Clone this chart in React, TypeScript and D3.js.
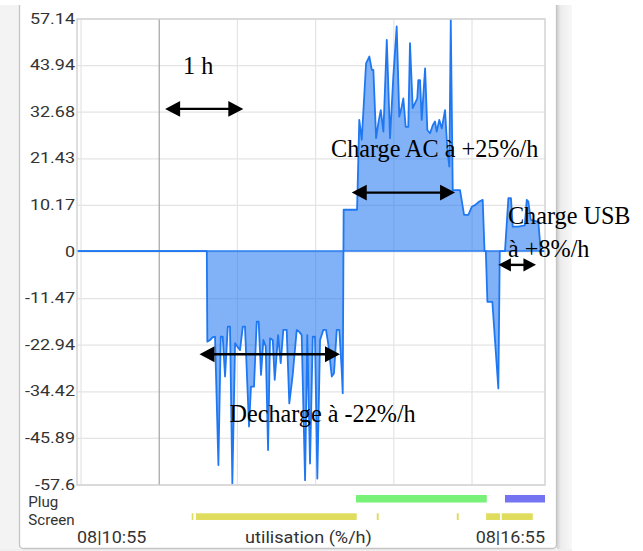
import React from 'react';
import * as d3 from 'd3';

// ---- data (time in minutes since midnight, rate in %/h) ----
const yTickLabels = ['57.14', '43.94', '32.68', '21.43', '10.17', '0', '-11.47', '-22.94', '-34.42', '-45.89', '-57.6'];
const yMin = -57.6;
const yMax = 57.14;
const tStart = 656.9;
const tEnd = 1016;
const hourGrid = [11, 12, 13, 14, 15, 16];
const majorHour = 12;

const times = [
  656.9, 756.5, 756.9, 759.0, 761.1, 762.8, 765.4, 767.2, 768.7, 770.5, 772.6, 774.3, 776.1, 778.2, 779.9,
  782.0, 784.1, 785.8, 788.9, 790.4, 792.7, 794.8, 796.3, 798.1, 799.9, 801.7, 803.5, 805.0, 807.1, 808.6,
  811.2, 813.2, 815.2, 817.8, 819.8, 822.4, 825.5, 827.5, 829.3, 831.9, 833.6, 835.7, 837.8, 839.5, 841.3,
  843.4, 845.9, 848.0, 849.8, 852.4, 854.1, 856.2, 858.2, 860.0, 860.8, 861.5, 871.8, 873.5, 875.4, 878.7,
  881.2, 883.1, 884.3, 886.4, 888.1, 890.0, 892.0, 894.6, 897.1, 899.6, 902.2, 904.2, 906.1, 907.3, 909.1,
  911.1, 912.4, 914.5, 916.3, 918.0, 918.8, 920.1, 921.4, 924.0, 925.7, 927.8, 929.9, 931.6, 932.9, 934.9,
  936.8, 939.3, 941.1, 942.6, 943.7, 945.2, 950.8, 953.9, 957.2, 959.8, 962.3, 965.6, 968.2, 969.6, 970.6,
  971.8, 975.6, 980.2, 981.3, 985.3, 987.9, 989.9, 991.2, 995.5, 1000.5, 1002.0, 1003.2, 1005.1, 1010.9, 1012.7,
  1016,
];
const rates = [
  0, 0, -22.3, -21.9, -21.2, -21.1, -52.7, -21.1, -21.1, -30.9, -18.6, -18.6, -57.2, -22.7, -23.5,
  -24.4, -18.6, -18.6, -43.2, -33.4, -33.4, -17.4, -17.4, -30.5, -21.9, -23.5, -49.0, -21.5, -21.9, -31.7,
  -20.7, -27.6, -19.4, -19.4, -37.5, -30.5, -19.4, -19.9, -20.7, -56.4, -20.7, -52.3, -21.1, -21.1, -56.0,
  -21.9, -19.4, -19.4, -23.1, -30.9, -30.1, -19.4, -19.4, -29.3, -35.0, 10.17, 10.17, 32.3, 27.4, 46.2,
  47.9, 44.6, 44.6, 27.8, 31.5, 34.7, 29.4, 52.0, 27.8, 42.9, 55.3, 33.1, 35.6, 37.6, 30.6,
  30.6, 51.2, 35.2, 36.4, 37.6, 42.1, 42.1, 32.3, 45.0, 29.8, 29.0, 31.0, 31.9, 29.4, 32.3,
  30.2, 34.7, 24.9, 20.8, 56.9, 15.0, 15.0, 8.9, 8.9, 10.9, 11.3, 12.2, 12.6, 0, 0,
  -12.5, -12.5, -33.8, 0, 0, 13.0, 13.0, 6.0, 6.0, 6.3, 12.6, 12.2, 7.7, 7.2, 0,
  0,
];

const plugAC = [[871.0, 971.3]];
const plugUSB = [[985.3, 1016]];
const screenOn = [[744.9, 746.2], [748.2, 871.5], [886.9, 888.4], [948.3, 949.8], [970.8, 981.5], [982.8, 1006.6]];

const xLabels = ['08|10:55', '08|16:55'];
const axisTitle = 'utilisation (%/h)';
const rowLabels = ['Plug', 'Screen'];

const noteTexts = ['1 h', 'Charge AC à +25%/h', 'Charge USB', 'à +8%/h', 'Decharge à -22%/h'];
const noteTimes = [738.3, 851.8, 987.6, 987.6, 773.9];
const noteValues = [43.6, 23.16, 6.66, -1.53, -42.0];

const arrowFrom = [724.5, 867.7, 980.2, 750.9];
const arrowTo = [784.5, 947.0, 1009.1, 858.7];
const arrowValues = [35.0, 14.4, -3.4, -25.4];

// ---- layout ----
const W = 643;
const H = 551;
const plot = { left: 77, right: 545, top: 19, bottom: 485 };

const sans = 'Roboto, "Noto Sans", sans-serif';
const serif = '"Liberation Serif", "Times New Roman", serif';

export default function App() {
  const x = d3.scaleLinear().domain([tStart, tEnd]).range([plot.left, plot.right]);
  const y = d3.scaleLinear().domain([yMin, yMax]).range([plot.bottom, plot.top]);
  const yTick = d3.scalePoint<string>().domain(yTickLabels).range([plot.top, plot.bottom]);

  const pts = times.map((t, i) => [t, rates[i]] as [number, number]);
  const area = d3
    .area<[number, number]>()
    .x((d) => x(d[0]))
    .y0(y(0))
    .y1((d) => y(d[1]));
  const line = d3
    .line<[number, number]>()
    .x((d) => x(d[0]))
    .y((d) => y(d[1]));

  const plugY = 495;
  const plugH = 7.5;
  const screenY = 513.3;
  const screenH = 6.7;

  const arrowHead = (tip: number, dir: number, cy: number, len: number, half: number) =>
    `M${tip},${cy} L${tip + dir * len},${cy - half} L${tip + dir * len},${cy + half} Z`;

  return (
    <div style={{ position: 'absolute', left: 0, top: 0 }}>
      <svg width={W} height={H} viewBox={`0 0 ${W} ${H}`} style={{ display: 'block' }}>
        <defs>
          <linearGradient id="rstrip" x1="0" x2="1" y1="0" y2="0">
            <stop offset="0" stopColor="#d2d2d2" />
            <stop offset="0.25" stopColor="#ececec" />
            <stop offset="1" stopColor="#f8f8f8" />
          </linearGradient>
        </defs>
        <rect x={0} y={0} width={W} height={H} fill="#ffffff" />
        <rect x={0} y={5} width={19} height={H - 5} fill="#f3f3f3" />
        <rect x={557} y={5} width={15} height={H - 5} fill="url(#rstrip)" />
        <rect x={0} y={549} width={572} height={2} fill="#efefef" />
        <path
          d="M19.5,5 V544.5 Q19.5,548.5 23.5,548.5 H552.5 Q556.5,548.5 556.5,544.5 V5"
          fill="#ffffff"
          stroke="#c4c4c4"
          strokeWidth={1.3}
        />

        {/* horizontal grid */}
        {yTickLabels.map((l) => (
          <line
            key={'hg' + l}
            x1={plot.left}
            x2={plot.right}
            y1={yTick(l)}
            y2={yTick(l)}
            stroke="#e4e4e4"
            strokeWidth={1.2}
          />
        ))}
        {/* vertical grid */}
        {hourGrid.map((h) => (
          <line
            key={'vg' + h}
            x1={x(h * 60)}
            x2={x(h * 60)}
            y1={plot.top}
            y2={plot.bottom}
            stroke={h === majorHour ? '#a3a3a3' : '#e4e4e4'}
            strokeWidth={1.2}
          />
        ))}

        {/* series */}
        <path d={area(pts) || ''} fill="#1a73f0" fillOpacity={0.55} />
        <line x1={plot.left} x2={plot.right} y1={y(0)} y2={y(0)} stroke="#2a7cf2" strokeWidth={1.4} />
        <path d={line(pts) || ''} fill="none" stroke="#1f78f2" strokeWidth={1.8} strokeLinejoin="round" />

        {/* frame */}
        <rect
          x={plot.left}
          y={plot.top}
          width={plot.right - plot.left}
          height={plot.bottom - plot.top}
          fill="none"
          stroke="#d0d0d0"
          strokeWidth={1.4}
        />

        {/* y tick labels */}
        {yTickLabels.map((l) => (
          <text
            key={'yl' + l}
            transform={`translate(75,${(yTick(l) as number) + 4.5}) scale(1.16,1)`}
            textAnchor="end"
            fontFamily={sans}
            fontSize={15.5}
            fill="#333"
          >
            {l}
          </text>
        ))}

        {/* plug / screen rows */}
        {plugAC.map((s, i) => (
          <rect key={'pa' + i} x={x(s[0])} y={plugY} width={x(s[1]) - x(s[0])} height={plugH} fill="#77f177" />
        ))}
        {plugUSB.map((s, i) => (
          <rect key={'pu' + i} x={x(s[0])} y={plugY} width={x(s[1]) - x(s[0])} height={plugH} fill="#7474f2" />
        ))}
        {screenOn.map((s, i) => (
          <rect key={'sc' + i} x={x(s[0])} y={screenY} width={x(s[1]) - x(s[0])} height={screenH} fill="#e0dc5e" />
        ))}
        <text transform="translate(28.3,506.7) scale(1.08,1)" fontFamily={sans} fontSize={14} fill="#333">
          {rowLabels[0]}
        </text>
        <text transform="translate(28.3,525) scale(1.08,1)" fontFamily={sans} fontSize={14} fill="#333">
          {rowLabels[1]}
        </text>

        {/* bottom labels */}
        <text transform={`translate(${plot.left},543.3) scale(1.09,1)`} fontFamily={sans} fontSize={16.5} fill="#333">
          {xLabels[0]}
        </text>
        <text
          transform={`translate(${plot.right},543.3) scale(1.09,1)`}
          textAnchor="end"
          fontFamily={sans}
          fontSize={16.5}
          fill="#333"
        >
          {xLabels[1]}
        </text>
        <text
          transform={`translate(${(plot.left + plot.right) / 2 - 2.5},543.3) scale(1.1,1)`}
          textAnchor="middle"
          fontFamily={sans}
          fontSize={16.5}
          fill="#333"
        >
          {axisTitle}
        </text>

        {/* annotations */}
        {noteTexts.map((t, i) => (
          <text key={'nt' + i} x={x(noteTimes[i])} y={y(noteValues[i])} fontFamily={serif} fontSize={24.2} fill="#000">
            {t}
          </text>
        ))}
        {arrowFrom.map((f, i) => {
          const x1 = x(f);
          const x2 = x(arrowTo[i]);
          const cy = y(arrowValues[i]);
          const len = Math.min(15, (x2 - x1) / 3);
          const half = len * 0.53;
          return (
            <g key={'ar' + i}>
              <line x1={x1 + len * 0.8} x2={x2 - len * 0.8} y1={cy} y2={cy} stroke="#000" strokeWidth={2.4} />
              <path d={arrowHead(x1, 1, cy, len, half)} fill="#000" />
              <path d={arrowHead(x2, -1, cy, len, half)} fill="#000" />
            </g>
          );
        })}
      </svg>
    </div>
  );
}
